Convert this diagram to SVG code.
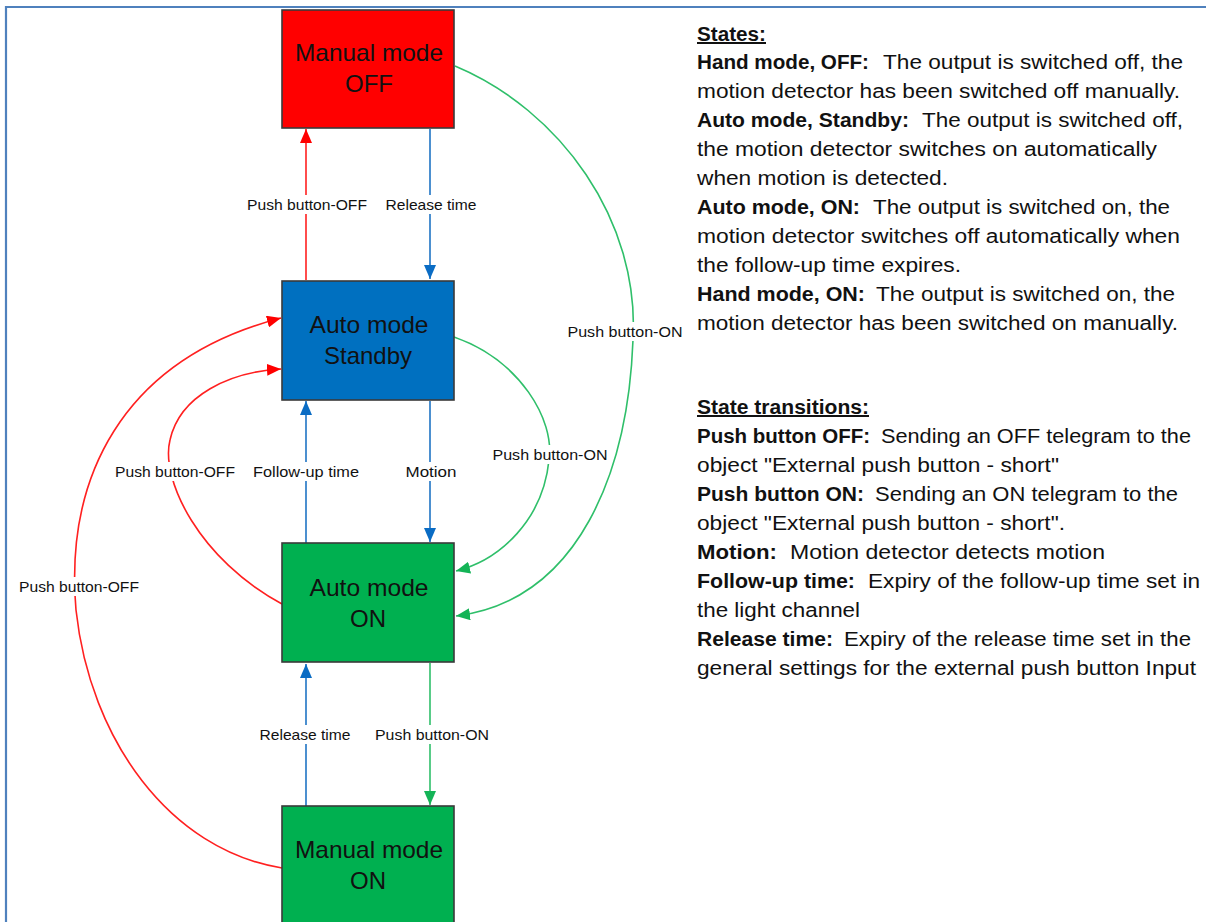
<svg xmlns="http://www.w3.org/2000/svg" width="1206" height="922" viewBox="0 0 1206 922">
  <style>
    .state { stroke: #3a3a3a; stroke-width: 1.6; }
    .stxt { font-family: "Liberation Sans", Arial, sans-serif; font-size: 24px; fill: #111; text-anchor: middle; }
    .edge { fill: none; stroke-width: 1.6; }
    .red { stroke: #ff2020; }
    .blue { stroke: #1f74c4; }
    .green { stroke: #2fbf6a; }
    .lbl { font-family: "Liberation Sans", Arial, sans-serif; font-size: 15px; fill: #111; text-anchor: middle; }
    .lblbg { fill: #fff; }
    .doc { font-family: "Liberation Sans", Arial, sans-serif; font-size: 20px; fill: #111; }
    .b { font-weight: bold; }
  </style>
  <defs>
    <marker id="ah-red" viewBox="0 0 14 12" refX="14" refY="6" markerWidth="14" markerHeight="12" markerUnits="userSpaceOnUse" orient="auto">
      <path d="M0,0 L14,6 L0,12 Z" fill="#ff0000"/>
    </marker>
    <marker id="ah-blue" viewBox="0 0 14 12" refX="14" refY="6" markerWidth="14" markerHeight="12" markerUnits="userSpaceOnUse" orient="auto">
      <path d="M0,0 L14,6 L0,12 Z" fill="#0a6cc4"/>
    </marker>
    <marker id="ah-green" viewBox="0 0 14 12" refX="14" refY="6" markerWidth="14" markerHeight="12" markerUnits="userSpaceOnUse" orient="auto">
      <path d="M0,0 L14,6 L0,12 Z" fill="#14b457"/>
    </marker>
  </defs>

  <rect width="1206" height="922" fill="#fff"/>

  <!-- page frame -->
  <path d="M6,922 L6,7 L1206,7" fill="none" stroke="#4f81bd" stroke-width="2.2"/>

  <!-- transitions -->
  <g id="connectors">
    <path class="edge red" d="M306,280 L306,129" marker-end="url(#ah-red)"/>
    <path class="edge blue" d="M430,129 L430,279" marker-end="url(#ah-blue)"/>
    <path class="edge green" d="M455,66 C560,110 640,220 633,340 C628,470 580,600 456,616" marker-end="url(#ah-green)"/>
    <path class="edge green" d="M454,337 C520,360 555,420 549,460 C543,520 500,560 456,571" marker-end="url(#ah-green)"/>
    <path class="edge blue" d="M430,401 L430,542" marker-end="url(#ah-blue)"/>
    <path class="edge blue" d="M306,543 L306,401" marker-end="url(#ah-blue)"/>
    <path class="edge red" d="M282,604 C200,560 160,480 170,440 C180,395 230,372 281,369" marker-end="url(#ah-red)"/>
    <path class="edge red" d="M282,868 C170,850 90,740 76,610 C65,480 120,360 281,318" marker-end="url(#ah-red)"/>
    <path class="edge blue" d="M306,806 L306,664" marker-end="url(#ah-blue)"/>
    <path class="edge green" d="M430,663 L430,805" marker-end="url(#ah-green)"/>

    <!-- transition labels -->
    <rect class="lblbg" x="245" y="195" width="124" height="19"/>
    <text class="lbl" x="307" y="210" textLength="120" lengthAdjust="spacingAndGlyphs">Push button-OFF</text>
    <rect class="lblbg" x="384" y="195" width="95" height="19"/>
    <text class="lbl" x="431" y="210" textLength="91" lengthAdjust="spacingAndGlyphs">Release time</text>
    <rect class="lblbg" x="566" y="322" width="119" height="19"/>
    <text class="lbl" x="625" y="337" textLength="115" lengthAdjust="spacingAndGlyphs">Push button-ON</text>
    <rect class="lblbg" x="491" y="445" width="119" height="19"/>
    <text class="lbl" x="550" y="460" textLength="115" lengthAdjust="spacingAndGlyphs">Push button-ON</text>
    <rect class="lblbg" x="113" y="462" width="124" height="19"/>
    <text class="lbl" x="175" y="477" textLength="120" lengthAdjust="spacingAndGlyphs">Push button-OFF</text>
    <rect class="lblbg" x="251" y="462" width="110" height="19"/>
    <text class="lbl" x="306" y="477" textLength="106" lengthAdjust="spacingAndGlyphs">Follow-up time</text>
    <rect class="lblbg" x="404" y="462" width="55" height="19"/>
    <text class="lbl" x="431" y="477" textLength="51" lengthAdjust="spacingAndGlyphs">Motion</text>
    <rect class="lblbg" x="17" y="577" width="124" height="19"/>
    <text class="lbl" x="79" y="592" textLength="120" lengthAdjust="spacingAndGlyphs">Push button-OFF</text>
    <rect class="lblbg" x="258" y="725" width="95" height="19"/>
    <text class="lbl" x="305" y="740" textLength="91" lengthAdjust="spacingAndGlyphs">Release time</text>
    <rect class="lblbg" x="373" y="725" width="118" height="19"/>
    <text class="lbl" x="432" y="740" textLength="114" lengthAdjust="spacingAndGlyphs">Push button-ON</text>
  </g>

  <!-- states -->
  <g id="manual-off">
    <rect class="state" x="282" y="10" width="172" height="118" fill="#ff0000"/>
    <text class="stxt" x="369" y="61" textLength="148" lengthAdjust="spacingAndGlyphs">Manual mode</text>
    <text class="stxt" x="369" y="92">OFF</text>
  </g>
  <g id="auto-standby">
    <rect class="state" x="282" y="281" width="172" height="119" fill="#0070c0"/>
    <text class="stxt" x="369" y="333" textLength="119" lengthAdjust="spacingAndGlyphs">Auto mode</text>
    <text class="stxt" x="368" y="364" textLength="88" lengthAdjust="spacingAndGlyphs">Standby</text>
  </g>
  <g id="auto-on">
    <rect class="state" x="282" y="543" width="172" height="119" fill="#00b050"/>
    <text class="stxt" x="369" y="596" textLength="119" lengthAdjust="spacingAndGlyphs">Auto mode</text>
    <text class="stxt" x="368" y="627">ON</text>
  </g>
  <g id="manual-on">
    <rect class="state" x="282" y="806" width="172" height="130" fill="#00b050"/>
    <text class="stxt" x="369" y="858" textLength="148" lengthAdjust="spacingAndGlyphs">Manual mode</text>
    <text class="stxt" x="368" y="889">ON</text>
  </g>

  <!-- legend: states -->
  <g id="legend-states">
    <text class="doc b" x="697" y="41" text-decoration="underline" textLength="69" lengthAdjust="spacingAndGlyphs">States:</text>
    <text class="doc" y="69"><tspan class="b" x="697" textLength="172" lengthAdjust="spacingAndGlyphs">Hand mode, OFF:</tspan><tspan x="883" textLength="300" lengthAdjust="spacingAndGlyphs">The output is switched off, the</tspan></text>
    <text class="doc" x="697" y="98" textLength="483" lengthAdjust="spacingAndGlyphs">motion detector has been switched off manually.</text>
    <text class="doc" y="127"><tspan class="b" x="697" textLength="212" lengthAdjust="spacingAndGlyphs">Auto mode, Standby:</tspan><tspan x="922" textLength="261" lengthAdjust="spacingAndGlyphs">The output is switched off,</tspan></text>
    <text class="doc" x="697" y="156" textLength="460" lengthAdjust="spacingAndGlyphs">the motion detector switches on automatically</text>
    <text class="doc" x="697" y="185" textLength="251" lengthAdjust="spacingAndGlyphs">when motion is detected.</text>
    <text class="doc" y="214"><tspan class="b" x="697" textLength="163" lengthAdjust="spacingAndGlyphs">Auto mode, ON:</tspan><tspan x="873" textLength="297" lengthAdjust="spacingAndGlyphs">The output is switched on, the</tspan></text>
    <text class="doc" x="697" y="243" textLength="483" lengthAdjust="spacingAndGlyphs">motion detector switches off automatically when</text>
    <text class="doc" x="697" y="272" textLength="264" lengthAdjust="spacingAndGlyphs">the follow-up time expires.</text>
    <text class="doc" y="301"><tspan class="b" x="697" textLength="168" lengthAdjust="spacingAndGlyphs">Hand mode, ON:</tspan><tspan x="876" textLength="299" lengthAdjust="spacingAndGlyphs">The output is switched on, the</tspan></text>
    <text class="doc" x="697" y="330" textLength="481" lengthAdjust="spacingAndGlyphs">motion detector has been switched on manually.</text>
  </g>

  <!-- legend: state transitions -->
  <g id="legend-transitions">
    <text class="doc b" x="697" y="414" text-decoration="underline" textLength="172" lengthAdjust="spacingAndGlyphs">State transitions:</text>
    <text class="doc" y="443"><tspan class="b" x="697" textLength="173" lengthAdjust="spacingAndGlyphs">Push button OFF:</tspan><tspan x="881" textLength="310" lengthAdjust="spacingAndGlyphs">Sending an OFF telegram to the</tspan></text>
    <text class="doc" x="697" y="472" textLength="362" lengthAdjust="spacingAndGlyphs">object "External push button - short"</text>
    <text class="doc" y="501"><tspan class="b" x="697" textLength="167" lengthAdjust="spacingAndGlyphs">Push button ON:</tspan><tspan x="875" textLength="303" lengthAdjust="spacingAndGlyphs">Sending an ON telegram to the</tspan></text>
    <text class="doc" x="697" y="530" textLength="368" lengthAdjust="spacingAndGlyphs">object "External push button - short".</text>
    <text class="doc" y="559"><tspan class="b" x="697" textLength="80" lengthAdjust="spacingAndGlyphs">Motion:</tspan><tspan x="790" textLength="315" lengthAdjust="spacingAndGlyphs">Motion detector detects motion</tspan></text>
    <text class="doc" y="588"><tspan class="b" x="697" textLength="158" lengthAdjust="spacingAndGlyphs">Follow-up time:</tspan><tspan x="868" textLength="332" lengthAdjust="spacingAndGlyphs">Expiry of the follow-up time set in</tspan></text>
    <text class="doc" x="697" y="617" textLength="163" lengthAdjust="spacingAndGlyphs">the light channel</text>
    <text class="doc" y="646"><tspan class="b" x="697" textLength="136" lengthAdjust="spacingAndGlyphs">Release time:</tspan><tspan x="844" textLength="347" lengthAdjust="spacingAndGlyphs">Expiry of the release time set in the</tspan></text>
    <text class="doc" x="697" y="675" textLength="499" lengthAdjust="spacingAndGlyphs">general settings for the external push button Input</text>
  </g>
</svg>
